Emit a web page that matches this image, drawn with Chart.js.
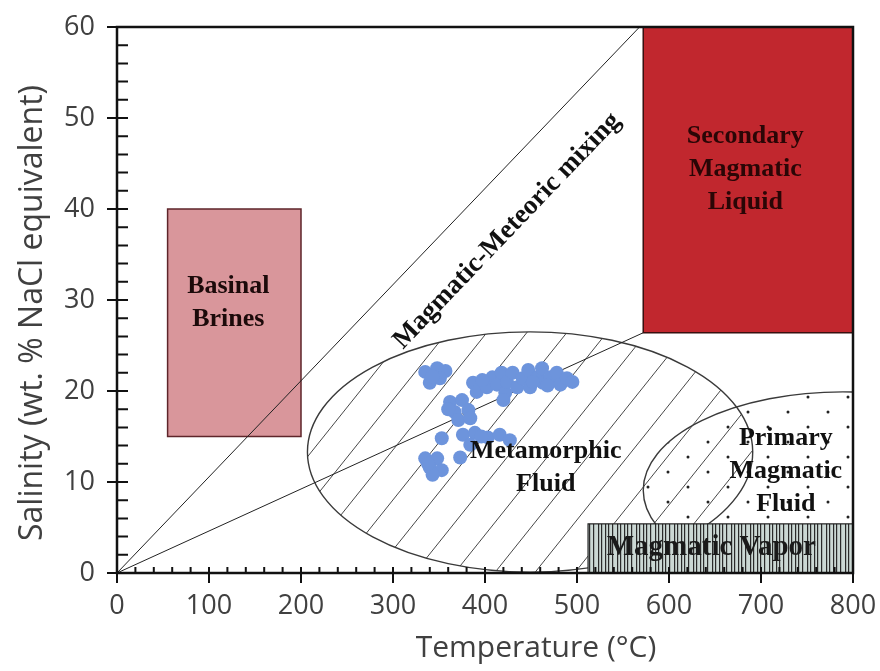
<!DOCTYPE html>
<html>
<head>
<meta charset="utf-8">
<script src="https://cdn.jsdelivr.net/npm/chart.js@4.4.0/dist/chart.umd.min.js"></script>
<style>
html, body { margin: 0; padding: 0; background: #fff; }
#wrap { width: 880px; height: 671px; position: relative; }
</style>
</head>
<body>
<div id="wrap"><canvas id="myChart"></canvas></div>
<script>
const temperature = [335, 348, 357, 340, 351, 343,
    387, 391, 402, 408, 413, 418, 422, 424, 430, 435, 441, 447, 449, 457, 462, 463, 471, 478, 482, 489, 495, 420, 397, 452, 468,
    362, 375, 367, 382, 371, 384, 360,
    353, 376, 389, 403, 416, 427, 384, 373, 396,
    335, 348, 340, 353, 343, 338];
const salinity = [22.1, 22.5, 22.2, 20.9, 21.4, 21.6,
    20.9, 19.9, 20.4, 21.5, 20.7, 22.0, 19.8, 21.0, 22.0, 20.4, 21.4, 22.3, 20.4, 21.5, 22.5, 20.9, 21.5, 22.0, 20.7, 21.4, 21.0, 19.0, 21.2, 21.0, 20.6,
    18.8, 19.0, 17.7, 17.9, 16.8, 17.0, 18.0,
    14.8, 15.2, 15.4, 14.9, 15.2, 14.6, 14.1, 12.7, 15.0,
    12.6, 12.6, 11.6, 11.3, 10.8, 12.0];

// mixing trends from the origin
const mixingX = [0, 568];
const mixingY = [0, 60];
const mixing2X = [0, 572];
const mixing2Y = [0, 26.4];

// rectangular fields
const boxNames = ['Basinal Brines', 'Secondary Magmatic Liquid', 'Magmatic Vapor'];
const boxXmin = [55, 572, 512];
const boxXmax = [200, 800, 800];
const boxYmin = [15, 26.4, 0];
const boxYmax = [40, 60, 5.4];

// elliptical fields
const fieldNames = ['Metamorphic Fluid', 'Primary Magmatic Fluid'];
const fieldCx = [449, 789];
const fieldCy = [13.3, 9.1];
const fieldRx = [242, 217];
const fieldRy = [13.2, 10.8];

const xTicks = [0, 100, 200, 300, 400, 500, 600, 700, 800];
const yTicks = [0, 10, 20, 30, 40, 50, 60];

// text placement inside the plot
const labelSpots = [
    { lines: ['Basinal', 'Brines'], x: 121, y: 29.7, color: '#1c0a0a', size: 26 },
    { lines: ['Secondary', 'Magmatic', 'Liquid'], x: 683, y: 44.4, color: '#2a0606', size: 26 },
    { lines: ['Metamorphic', 'Fluid'], x: 466, y: 11.6, color: '#111', size: 26 },
    { lines: ['Primary', 'Magmatic', 'Fluid'], x: 727, y: 11.2, color: '#111', size: 26 },
    { lines: ['Magmatic Vapor'], x: 646, y: 2.8, color: '#1a1a1a', size: 29 }
];
const mixingLabel = { text: 'Magmatic-Meteoric mixing', x: 424, y: 37.6 };

const serifFamily = '"Liberation Serif", "Times New Roman", serif';
const sans = '"Open Sans", "DejaVu Sans", sans-serif';

function makePattern(kind) {
    const c = document.createElement('canvas');
    const g = c.getContext('2d');
    if (kind == 'dots') {
        c.width = 40; c.height = 30;
        g.fillStyle = '#222';
        g.beginPath(); g.arc(8, 7, 1.5, 0, Math.PI * 2); g.fill();
        g.beginPath(); g.arc(28, 22, 1.5, 0, Math.PI * 2); g.fill();
    } else {
        c.width = 19; c.height = 4;
        g.fillStyle = '#cbd8d4';
        g.fillRect(0, 0, 19, 4);
        g.fillStyle = '#2a2a2a';
        [0, 4, 9, 12, 16].forEach(function(px) { g.fillRect(px, 0, 1.2, 4); });
    }
    return g.createPattern(c, 'repeat');
}

function boxPx(chart, i) {
    const xs = chart.scales.x, ys = chart.scales.y;
    const l = xs.getPixelForValue(boxXmin[i]), r = xs.getPixelForValue(boxXmax[i]);
    const t = ys.getPixelForValue(boxYmax[i]), b = ys.getPixelForValue(boxYmin[i]);
    return [l, t, r - l, b - t];
}

function ellipsePath(ctx, chart, i) {
    const xs = chart.scales.x, ys = chart.scales.y;
    const cx = xs.getPixelForValue(fieldCx[i]), cy = ys.getPixelForValue(fieldCy[i]);
    const rx = xs.getPixelForValue(fieldCx[i] + fieldRx[i]) - cx;
    const ry = cy - ys.getPixelForValue(fieldCy[i] + fieldRy[i]);
    ctx.beginPath();
    ctx.ellipse(cx, cy, rx, ry, 0, 0, Math.PI * 2);
    return [cx, cy, rx, ry];
}

const fieldsPlugin = {
    id: 'fields',
    beforeDatasetsDraw(chart) {
        const ctx = chart.ctx, a = chart.chartArea;
        ctx.save();
        ctx.beginPath();
        ctx.rect(a.left, a.top, a.width, a.height);
        ctx.clip();

        // basinal brines
        let r = boxPx(chart, 0);
        ctx.fillStyle = '#d9969b';
        ctx.fillRect(r[0], r[1], r[2], r[3]);
        ctx.strokeStyle = '#5e252a';
        ctx.lineWidth = 1.5;
        ctx.strokeRect(r[0], r[1], r[2], r[3]);

        // secondary magmatic liquid
        r = boxPx(chart, 1);
        ctx.fillStyle = '#c1272e';
        ctx.fillRect(r[0], r[1], r[2], r[3]);
        ctx.strokeStyle = '#3a1010';
        ctx.strokeRect(r[0], r[1], r[2], r[3]);

        // primary magmatic fluid - dotted
        ctx.save();
        ellipsePath(ctx, chart, 1);
        ctx.clip();
        ctx.fillStyle = makePattern('dots');
        ctx.fillRect(a.left, a.top, a.width, a.height);
        ctx.restore();

        // metamorphic fluid - diagonal hatching
        ctx.save();
        const e = ellipsePath(ctx, chart, 0);
        ctx.clip();
        ctx.strokeStyle = '#333';
        ctx.lineWidth = 0.9;
        const top = e[1] - e[3], bot = e[1] + e[3];
        const run = (bot - top) / 1.25;
        for (let x0 = e[0] - e[2] - run - 20; x0 < e[0] + e[2] + 10; x0 += 40) {
            ctx.beginPath();
            ctx.moveTo(x0, bot);
            ctx.lineTo(x0 + run, top);
            ctx.stroke();
        }
        ctx.restore();

        ctx.strokeStyle = '#3a3a3a';
        ctx.lineWidth = 1.4;
        ellipsePath(ctx, chart, 0); ctx.stroke();
        ellipsePath(ctx, chart, 1); ctx.stroke();
        ctx.restore();
    },
    afterDatasetsDraw(chart) {
        const ctx = chart.ctx, a = chart.chartArea;
        const xs = chart.scales.x, ys = chart.scales.y;
        ctx.save();

        // magmatic vapor sits on top of everything
        const r = boxPx(chart, 2);
        ctx.fillStyle = makePattern('lines');
        ctx.fillRect(r[0], r[1], r[2], r[3]);
        ctx.strokeStyle = '#222';
        ctx.lineWidth = 1.2;
        ctx.strokeRect(r[0], r[1], r[2], r[3]);

        // labels
        ctx.textAlign = 'center';
        ctx.textBaseline = 'middle';
        labelSpots.forEach(function(s) {
            const cx = xs.getPixelForValue(s.x), cy = ys.getPixelForValue(s.y);
            const lh = 33;
            const y0 = cy - (s.lines.length - 1) * lh / 2;
            ctx.font = 'bold ' + s.size + 'px ' + serifFamily;
            ctx.fillStyle = s.color;
            s.lines.forEach(function(t, k) { ctx.fillText(t, cx, y0 + k * lh); });
        });

        const ang = Math.atan2(ys.getPixelForValue(mixingY[1]) - ys.getPixelForValue(mixingY[0]),
            xs.getPixelForValue(mixingX[1]) - xs.getPixelForValue(mixingX[0]));
        ctx.save();
        ctx.translate(xs.getPixelForValue(mixingLabel.x), ys.getPixelForValue(mixingLabel.y));
        ctx.rotate(ang);
        ctx.font = 'bold 27px ' + serifFamily;
        ctx.fillStyle = '#111';
        ctx.fillText(mixingLabel.text, 0, 0);
        ctx.restore();

        // frame
        ctx.strokeStyle = '#111';
        ctx.lineWidth = 2.5;
        ctx.strokeRect(a.left, a.top, a.width, a.height);

        // ticks: majors cross the axis, minors point inward
        ctx.lineWidth = 2;
        ctx.beginPath();
        for (let v = 0; v <= 800; v += 20) {
            const px = xs.getPixelForValue(v);
            const major = v % 100 == 0;
            ctx.moveTo(px, a.bottom - 6);
            ctx.lineTo(px, a.bottom + (major ? 10 : 0));
        }
        for (let v = 0; v <= 60; v += 2) {
            const py = ys.getPixelForValue(v);
            const major = v % 10 == 0;
            ctx.moveTo(a.left + 11, py);
            ctx.lineTo(a.left - (major ? 10 : 0), py);
        }
        ctx.stroke();

        // axis titles
        ctx.fillStyle = '#404040';
        ctx.font = '30px ' + sans;
        ctx.textBaseline = 'middle';
        ctx.fillText('Temperature (\u00b0C)', 536, 648);
        ctx.font = '32px ' + sans;
        ctx.save();
        ctx.translate(33, 313);
        ctx.rotate(-Math.PI / 2);
        ctx.fillText('Salinity (wt. % NaCl equivalent)', 0, 0);
        ctx.restore();

        ctx.restore();
    }
};

function toPoints(xs, ys) {
    return xs.map(function(v, i) { return { x: v, y: ys[i] }; });
}

const ctx = document.getElementById('myChart').getContext('2d');
new Chart(ctx, {
    type: 'scatter',
    data: {
        datasets: [{
            label: 'Fluid inclusions',
            data: toPoints(temperature, salinity),
            backgroundColor: '#6d94dc',
            borderWidth: 0,
            pointRadius: 7
        }, {
            label: 'Magmatic-Meteoric mixing',
            type: 'line',
            data: toPoints(mixingX, mixingY),
            borderColor: '#222',
            borderWidth: 1,
            pointRadius: 0
        }, {
            label: 'mixing 2',
            type: 'line',
            data: toPoints(mixing2X, mixing2Y),
            borderColor: '#222',
            borderWidth: 1,
            pointRadius: 0
        }]
    },
    options: {
        responsive: true,
        maintainAspectRatio: false,
        animation: false,
        layout: { padding: { left: 0, top: 27, right: 27, bottom: 0 } },
        plugins: {
            legend: { display: false },
            tooltip: { enabled: false }
        },
        scales: {
            x: {
                type: 'linear',
                min: 0, max: 800,
                afterBuildTicks: function(s) { s.ticks = xTicks.map(function(v) { return { value: v }; }); },
                afterFit: function(s) { s.height = 98; s.paddingLeft = 0; s.paddingRight = 0; },
                grid: { display: false, drawTicks: false },
                border: { display: false },
                ticks: { font: { family: sans, size: 27 }, color: '#404040', padding: 17, maxRotation: 0 }
            },
            y: {
                type: 'linear',
                min: 0, max: 60,
                afterBuildTicks: function(s) { s.ticks = yTicks.map(function(v) { return { value: v }; }); },
                afterFit: function(s) { s.width = 117; s.paddingTop = 0; s.paddingBottom = 0; },
                grid: { display: false, drawTicks: false },
                border: { display: false },
                ticks: { font: { family: sans, size: 27 }, color: '#404040', padding: 22 }
            }
        }
    },
    plugins: [fieldsPlugin]
});
</script>
</body>
</html>
